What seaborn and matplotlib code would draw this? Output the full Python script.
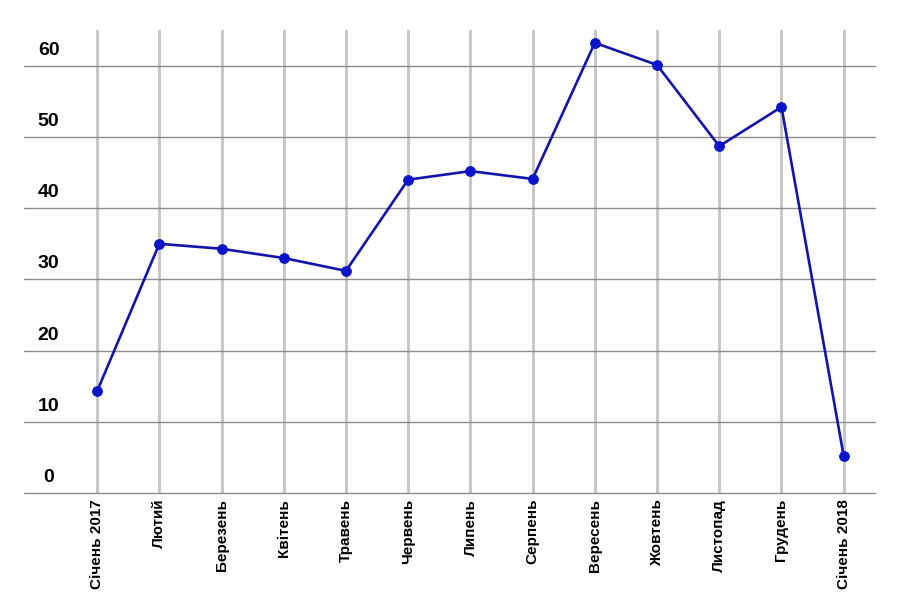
import pandas as pd
import matplotlib.pyplot as plt
import seaborn as sns

misyatsi = ['Січень 2017', 'Лютий', 'Березень', 'Квітень', 'Травень', 'Червень',
            'Липень', 'Серпень', 'Вересень', 'Жовтень', 'Листопад', 'Грудень',
            'Січень 2018']
znachennya = [14.3, 35.0, 34.3, 33.0, 31.2, 44.0, 45.2, 44.1, 63.2, 60.1, 48.7, 54.2, 5.2]
ytiky = [0, 10, 20, 30, 40, 50, 60]

sns.set_style("white")
plt.rcParams['font.family'] = ['Liberation Sans', 'DejaVu Sans']
plt.rcParams['text.color'] = 'black'
plt.rcParams['xtick.color'] = 'black'

dani = pd.DataFrame({'pos': range(len(misyatsi)), 'value': znachennya})

fig = plt.figure(figsize=(9, 6), dpi=100)
ax = fig.add_axes([0.027, 0.178, 0.945, 0.772])

# vertical light grid lines at each month
for x in dani['pos']:
    ax.axvline(x, color='#c4c4c4', linewidth=2, zorder=0)
# horizontal darker grid lines
for y in ytiky:
    ax.axhline(y, color='#8c8c8c', linewidth=1, zorder=1, clip_on=False)

sns.lineplot(data=dani, x='pos', y='value', ax=ax, color='#1414a8', linewidth=1.9,
             marker='o', markersize=7, markerfacecolor='#0a14c8',
             markeredgecolor='#0a14c8', zorder=3)

ax.set_xlim(-1.17, 12.5)
ax.set_ylim(0, 65)
ax.set_xticks(list(dani['pos']))
ax.set_xticklabels(misyatsi, rotation=90, fontsize=11, fontweight='bold',
                   va='top', ha='center', color='black')
ax.tick_params(axis='x', length=0, pad=4)
ax.set_yticks([])
for y in ytiky:
    ax.text(-0.78, y + 1.0, str(y), fontsize=14, fontweight='bold',
            ha='center', va='bottom', color='black')

for s in ax.spines.values():
    s.set_visible(False)
ax.set_xlabel('')
ax.set_ylabel('')

plt.savefig('out.png', dpi=100)
